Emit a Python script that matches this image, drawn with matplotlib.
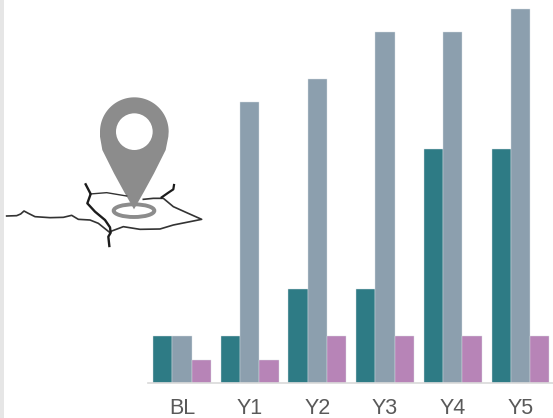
# -*- coding: utf-8 -*-
import numpy as np
import matplotlib; matplotlib.use('Agg')
import matplotlib.pyplot as plt
from matplotlib.patches import Circle, Ellipse, Polygon, Rectangle

plt.rcParams['font.family'] = ['Liberation Sans', 'DejaVu Sans']

categories = ['BL', 'Y1', 'Y2', 'Y3', 'Y4', 'Y5']
teal_vals = [2, 2, 4, 4, 10, 10]
grey_vals = [2, 12, 13, 15, 15, 16]
purple_vals = [1, 1, 2, 2, 2, 2]

W, H = 553, 418
fig = plt.figure(figsize=(W/100, H/100), dpi=100)

# ---- bars ----
ax = fig.add_axes([148/W, (H-383)/H, 405/W, 383/H])
x = np.arange(len(categories))
w = 0.285
edge = '#d9dfe4'
ax.bar(x-w, teal_vals, w, color='#2e7b85', edgecolor=edge, linewidth=0.3)
ax.bar(x, grey_vals, w, color='#8c9fae', edgecolor=edge, linewidth=0.3)
ax.bar(x+w, purple_vals, w, color='#b784b7', edgecolor=edge, linewidth=0.3)
ax.set_xlim(-0.502, 5.48); ax.set_ylim(0, 16.37)
ax.set_xticks(x); ax.set_xticklabels(categories, fontsize=15.5, color='#595959')
ax.tick_params(axis='x', length=0, pad=11)
ax.set_yticks([])
for s in ['top', 'left', 'right']: ax.spines[s].set_visible(False)
ax.spines['bottom'].set_color('#d9d9d9'); ax.spines['bottom'].set_linewidth(1.2)

# ---- icon layer in zoomed crop coords (crop 3x, origin 0,90) ----
ov = fig.add_axes([0, 0, 1, 1], zorder=-1)
ov.set_xlim(0, W); ov.set_ylim(H, 0); ov.axis('off')
def pts(seq):
    a = np.array(seq, dtype=float)
    return a[:, 0]/3, a[:, 1]/3 + 90

road_main = [(20,378),(50,377),(62,372),(72,363),(85,370),(105,380),(150,383),(190,382),(215,376),
             (235,388),(270,390),(295,400),(320,420),(330,428)]
road_loop = [(330,425),(370,410),(420,418),(480,417),(520,405),(570,395),(605,388),(560,368),
             (520,350),(490,325),(460,325),(430,328)]
road_top = [(270,312),(320,308),(380,318)]
road_left = [(257,283),(272,312),(262,340),(285,365),(315,390),(330,412),(332,428),(325,440),(328,468)]
road_right = [(485,322),(505,308),(520,298),(522,285)]
for seq, lw, c in [(road_main, 1.2, '#333333'), (road_loop, 1.2, '#333333'), (road_top, 1.0, '#333333'),
                   (road_left, 1.7, '#1c1c1c'), (road_right, 1.6, '#1c1c1c')]:
    xs, ys = pts(seq)
    ov.plot(xs, ys, color=c, lw=lw, solid_joinstyle='round')

pin = '#8c8c8c'
ov.add_patch(Ellipse((402/3, 362/3+90), 122/3, 38/3, fill=False, ec=pin, lw=2.8))
cx, cy, r = 403/3, 125/3+90, 103/3
t = np.radians(np.linspace(180, 0, 60))
arc = np.column_stack([cx + r*np.cos(t), cy - r*np.sin(t)])
xs, ys = pts([(505,140),(497,180),(462,250),(432,305),(402,358),(372,305),(342,250),(307,180),(300,140)])
ov.add_patch(Polygon(np.vstack([arc, np.column_stack([xs, ys])]), closed=True, fc=pin, ec='none'))
ov.add_patch(Circle((cx, cy), 55/3, fc='white', ec='none'))

# grey strip at left edge
ov.add_patch(Rectangle((0, 0), 4, H, fc='#e6e6e6', ec='none'))

ax.patch.set_alpha(0)
fig.savefig('out.png', dpi=100)
